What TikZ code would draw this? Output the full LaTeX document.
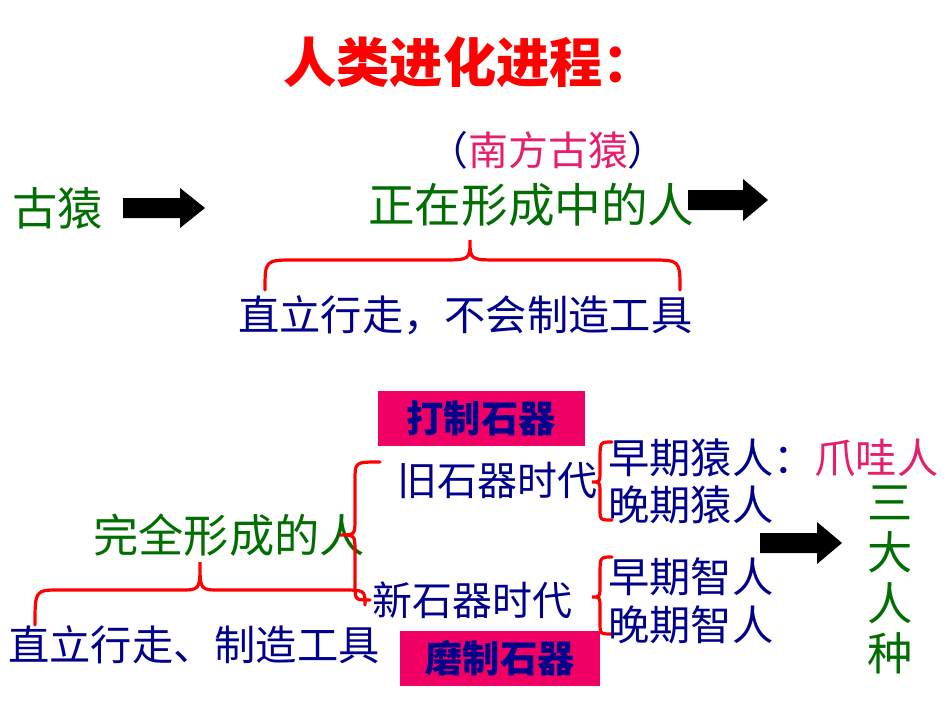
\documentclass[tikz,border=0pt]{standalone}
\usepackage{fontspec}
\newfontfamily\cjk{Noto Sans CJK SC}
\definecolor{gr}{RGB}{0,110,0}
\definecolor{bl}{RGB}{0,0,140}
\definecolor{pk}{RGB}{230,30,110}
\definecolor{bx}{RGB}{240,0,100}
\begin{document}
\begin{tikzpicture}[x=0.0264cm,y=-0.0264cm,
 t/.style={anchor=west,inner sep=0pt,font=\cjk\fontsize{#1}{#1}\selectfont},
 br/.style={draw=red,line width=2.4pt,line cap=round},
 box/.style={fill=bx,minimum height=55*0.0264cm,inner sep=0pt,text=bl,font=\cjk\bfseries\fontsize{28}{28}\selectfont}]
\fill[white] (0,0) rectangle (950,713);
\node[t=40,text=red,font=\cjk\bfseries\fontsize{40}{40}\selectfont] (title) at (283,62) {人类进化进程：};
\node[t=30,text=bl] (aus) at (428,150) {（\textcolor{pk}{南方古猿}）};
\node[t=34,text=gr] (gy) at (12,208) {古猿};
\node[t=35,text=gr] (zz) at (368,205) {正在形成中的人};
\node[t=31,text=bl] (zl) at (238,315) {直立行走，不会制造工具};
\fill[black] (123,198) rectangle (180,218) (180,188) -- (205,208) -- (180,228) -- cycle;
\fill[black] (688,190) rectangle (743,210) (743,179) -- (768,200) -- (743,221) -- cycle;
\fill[black] (760,533) rectangle (817,553) (817,522) -- (842,543) -- (817,564) -- cycle;
\draw[br] (265,290) .. controls (265,260) .. (295,260) -- (440,260) .. controls (470,260) .. (470,240) .. controls (470,260) .. (500,260) -- (650,260) .. controls (680,260) .. (680,290);
\node[box,minimum width=207*0.0264cm] (b1) at (481,418) {打制石器};
\node[box,minimum width=200*0.0264cm] (b2) at (500,658) {磨制石器};
\node[t=34,text=gr] (wq) at (93,535) {完全形成的人};
\node[t=30,text=bl] (jsq) at (397,480) {旧石器时代};
\node[t=30,text=bl] (xsq) at (372,600) {新石器时代};
\node[t=31,text=bl] (zl2) at (8,645) {直立行走、制造工具};
\draw[br] (380,462) .. controls (355,462) .. (355,480) -- (355,518) .. controls (355,535) .. (340,535) .. controls (355,535) .. (355,552) -- (355,585) .. controls (355,600) .. (370,600);
\draw[br] (35,625) .. controls (35,590) .. (60,590) -- (180,590) .. controls (200,590) .. (200,562) .. controls (200,590) .. (220,590) -- (340,590) .. controls (365,590) .. (365,605);
\draw[br] (612,442) .. controls (600,442) .. (600,460) -- (600,470) .. controls (600,482) .. (592,482) .. controls (600,482) .. (600,494) -- (600,508) .. controls (600,520) .. (612,520);
\draw[br] (612,557) .. controls (600,557) .. (600,575) -- (600,585) .. controls (600,597) .. (592,597) .. controls (600,597) .. (600,609) -- (600,622) .. controls (600,634) .. (612,634);
\node[t=31,text=bl] (e1) at (608,458) {早期猿人：\textcolor{pk}{爪哇人}};
\node[t=31,text=bl] (e2) at (608,505) {晚期猿人};
\node[t=31,text=bl] (e3) at (608,577) {早期智人};
\node[t=31,text=bl] (e4) at (608,625) {晚期智人};
\node[text=gr,inner sep=0pt,align=center,font=\cjk\fontsize{34}{38}\selectfont] (sd) at (890,580) {三\\大\\人\\种};
\end{tikzpicture}
\end{document}
